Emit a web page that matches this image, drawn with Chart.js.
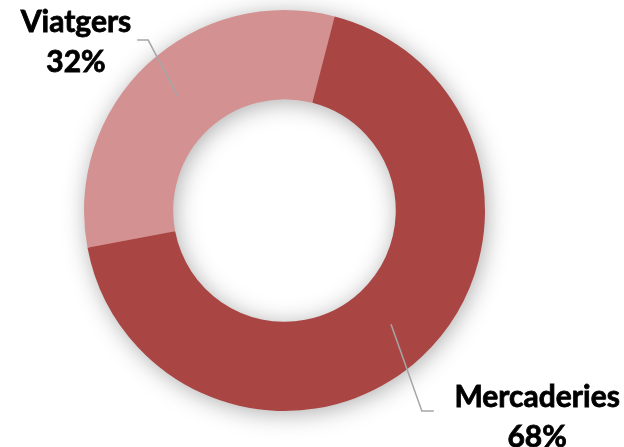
<!DOCTYPE html>
<html>
<head>
<meta charset="utf-8">
<script src="https://cdn.jsdelivr.net/npm/chart.js@4/dist/chart.umd.min.js"></script>
<style>
  html, body { margin: 0; padding: 0; background: #fff; }
  #wrap { width: 624px; height: 447px; }
</style>
</head>
<body>
<div id="wrap"><canvas id="donut"></canvas></div>
<script>
const labels = ['Mercaderies', 'Viatgers']
const values = [68, 32]
const colors = ['rgb(169, 70, 68)', 'rgb(211, 146, 145)']

// where each label sits, in units of the outer radius from the centre
const labelSpots = [
    { elbow: [0.685, 1.0], text: [1.26, 1.03], stub: 12 },
    { elbow: [-0.68, -0.85], text: [-1.04, -0.84], stub: -11 }
]

const ringShadow = {
    id: 'ringShadow',
    beforeDatasetsDraw(chart) {
        const arc = chart.getDatasetMeta(0).data[0]
        if (!arc) return
        const { x, y, outerRadius, innerRadius } = arc.getProps(['x', 'y', 'outerRadius', 'innerRadius'], true)
        const ctx = chart.ctx
        ctx.save()
        ctx.shadowColor = 'rgba(0,0,0,0.34)'
        ctx.shadowBlur = 24
        ctx.shadowOffsetX = 2
        ctx.shadowOffsetY = 3
        ctx.fillStyle = colors[0]
        ctx.beginPath()
        ctx.arc(x, y, outerRadius - 1, 0, Math.PI * 2)
        ctx.arc(x, y, innerRadius + 1, 0, Math.PI * 2, true)
        ctx.fill('evenodd')
        ctx.restore()
    }
}

const outsideLabels = {
    id: 'outsideLabels',
    afterDatasetsDraw(chart) {
        const ctx = chart.ctx
        const meta = chart.getDatasetMeta(0)
        const total = values.reduce((a, b) => a + b, 0)
        meta.data.forEach((arc, i) => {
            const { x, y, outerRadius } = arc.getProps(['x', 'y', 'outerRadius'], true)
            const start = arc.getCenterPoint()
            const spot = labelSpots[i]
            const ex = x + spot.elbow[0] * outerRadius
            const ey = y + spot.elbow[1] * outerRadius

            ctx.save()
            ctx.strokeStyle = '#a6a6a6'
            ctx.lineWidth = 1.5
            ctx.beginPath()
            ctx.moveTo(start.x, start.y)
            ctx.lineTo(ex, ey)
            ctx.lineTo(ex + spot.stub, ey)
            ctx.stroke()

            const tx = x + spot.text[0] * outerRadius
            const ty = y + spot.text[1] * outerRadius
            const lines = [labels[i], Math.round(values[i] / total * 100) + '%']
            ctx.fillStyle = '#000'
            ctx.strokeStyle = '#000'
            ctx.lineWidth = 0.8
            ctx.font = 'bold 30px Lato, "Liberation Sans", sans-serif'
            ctx.textAlign = 'center'
            ctx.textBaseline = 'middle'
            lines.forEach((t, k) => {
                const ly = ty + (k === 0 ? -20 : 20)
                ctx.fillText(t, tx, ly)
                ctx.strokeText(t, tx, ly)
            })
            ctx.restore()
        })
    }
}

new Chart(document.querySelector('#donut'), {
    type: 'doughnut',
    data: {
        labels: labels,
        datasets: [{
            data: values,
            backgroundColor: colors,
            borderWidth: 0,
            hoverOffset: 0
        }]
    },
    options: {
        responsive: true,
        maintainAspectRatio: false,
        animation: false,
        cutout: '55.5%',
        rotation: 14.5,
        layout: { padding: { left: 83, right: 138, top: 10, bottom: 36 } },
        plugins: {
            legend: { display: false },
            tooltip: { enabled: false }
        }
    },
    plugins: [ringShadow, outsideLabels]
})
</script>
</body>
</html>
